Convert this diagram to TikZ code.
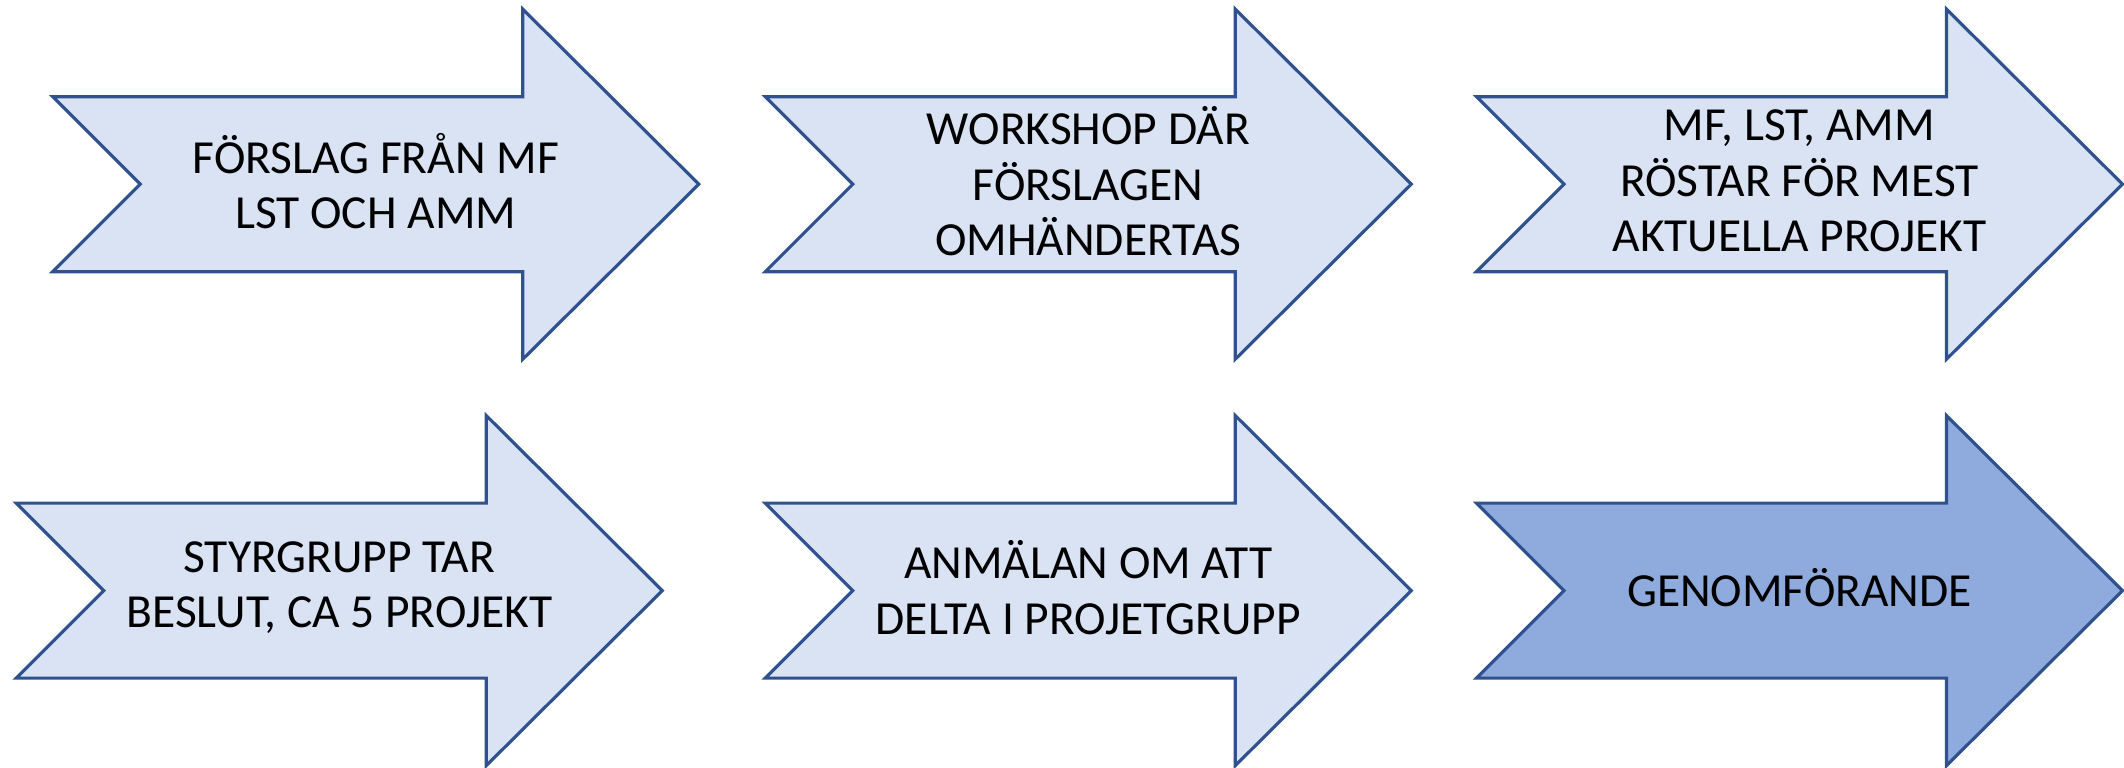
\documentclass[tikz,border=0pt]{standalone}
\usepackage{fontspec}
\setmainfont{Carlito}
\definecolor{boxfill}{HTML}{DAE3F3}
\definecolor{lastfill}{HTML}{8FAADC}
\definecolor{boxline}{HTML}{2F528F}
\tikzset{
  arrowline/.style={draw=boxline,line width=0.9pt,line join=miter},
  arrowtext/.style={align=center,text=black,font=\fontsize{13.5}{15.8}\selectfont,inner sep=0pt}
}
% name, left x, middle y, fill, text
\newcommand{\flowarrow}[5]{%
  \draw[arrowline,fill=#4] (#2,#3-87.5) -- ++(470,0) -- ++(0,-87.5) -- ++(176,175)
    -- ++(-176,175) -- ++(0,-87.5) -- ++(-470,0) -- ++(87.5,-87.5) -- cycle;
  \node[arrowtext] (#1) at (#2+323,#3-3) {#5};
}
\begin{document}
\begin{tikzpicture}[x=0.01cm,y=-0.01cm]
        \useasboundingbox (0,0) rectangle (2124,768);

        % upper row
        \flowarrow{forslag}{52.8}{184.2}{boxfill}{FÖRSLAG FRÅN MF\\LST OCH AMM}
        \flowarrow{workshop}{765.3}{184.2}{boxfill}{WORKSHOP DÄR\\FÖRSLAGEN\\OMHÄNDERTAS}
        \flowarrow{rostar}{1476.5}{184.2}{boxfill}{MF, LST, AMM\\RÖSTAR FÖR MEST\\AKTUELLA PROJEKT}

        % lower row
        \flowarrow{beslut}{16.3}{590.6}{boxfill}{STYRGRUPP TAR\\BESLUT, CA 5 PROJEKT}
        \flowarrow{anmalan}{765.3}{590.6}{boxfill}{ANMÄLAN OM ATT\\DELTA I PROJETGRUPP}
        \flowarrow{genomforande}{1476.5}{590.6}{lastfill}{GENOMFÖRANDE}
    \end{tikzpicture}
\end{document}
